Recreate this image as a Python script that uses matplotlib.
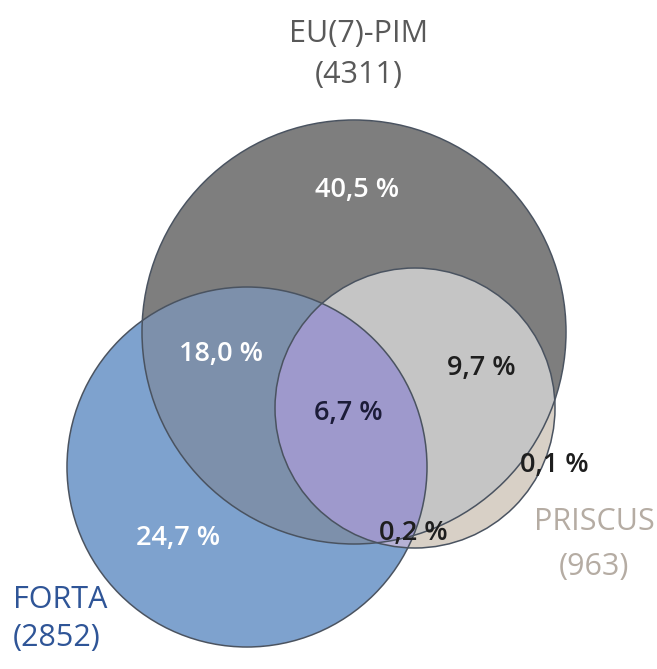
import numpy as np
import matplotlib
matplotlib.use("Agg")
import matplotlib.pyplot as plt
import matplotlib.colors as mcolors
from matplotlib.patches import Circle

plt.rcParams['font.family'] = ['Open Sans', 'DejaVu Sans']

# ---- data ----
set_names = ["EU(7)-PIM", "FORTA", "PRISCUS"]
set_counts = [4311, 2852, 963]
# region membership (EU, FORTA, PRISCUS) and percentage share
region_keys = ["100", "010", "001", "110", "101", "111", "011"]
region_pcts = [40.5, 24.7, 0.1, 18.0, 9.7, 6.7, 0.2]

# ---- layout (pixel coordinates, y downward) ----
W, H = 657, 669
circles = {  # center x, center y, radius
    "EU(7)-PIM": (354, 332, 212),
    "FORTA": (247, 467, 180),
    "PRISCUS": (415, 408, 140),
}
region_colors = {
    "100": "#7f7f7f",
    "010": "#7fa2cf",
    "001": "#d9d0c7",
    "110": "#7d91ab",
    "101": "#c5c5c5",
    "111": "#9e99cc",
    "011": "#b7b2d6",
}
region_text_pos = {
    "100": (357, 190), "010": (178, 538), "001": (554, 465),
    "110": (221, 354), "101": (481, 368), "111": (348, 413),
    "011": (413, 533),
}
region_text_col = {
    "100": "white", "010": "white", "001": "#1e1e1e",
    "110": "white", "101": "#1e1e1e", "111": "#1c1c38",
    "011": "#1e1e1e",
}
label_pos = {
    "EU(7)-PIM": (359, 34, 359, 75, "center"),
    "FORTA": (13, 600, 13, 638, "left"),
    "PRISCUS": (594, 522, 594, 567, "center"),
}
label_col = {"EU(7)-PIM": "#595959", "FORTA": "#2f5597", "PRISCUS": "#b5aca3"}

fig = plt.figure(figsize=(W / 100, H / 100), dpi=100)
ax = fig.add_axes([0, 0, 1, 1])
ax.set_xlim(0, W)
ax.set_ylim(H, 0)
ax.set_aspect('equal')
ax.axis('off')

# region fills on a fine grid
s = 3
xs = (np.arange(W * s) + 0.5) / s
ys = (np.arange(H * s) + 0.5) / s
X, Y = np.meshgrid(xs, ys)
member = []
for name in set_names:
    cx, cy, r = circles[name]
    member.append((X - cx) ** 2 + (Y - cy) ** 2 <= r ** 2)
img = np.ones((H * s, W * s, 4))
img[..., 3] = 0
for key in region_keys:
    m = np.ones_like(X, dtype=bool)
    for i, ch in enumerate(key):
        m &= member[i] if ch == "1" else ~member[i]
    img[m] = mcolors.to_rgba(region_colors[key])
ax.imshow(img, extent=(0, W, H, 0), interpolation='antialiased', zorder=1)

for name in set_names:
    cx, cy, r = circles[name]
    ax.add_patch(Circle((cx, cy), r, fill=False, ec="#4a5360", lw=1.1, zorder=2))

for key, pct in zip(region_keys, region_pcts):
    x, y = region_text_pos[key]
    ax.text(x, y, f"{pct:.1f} %".replace(".", ","), ha="center", va="center",
            fontsize=19.5, fontweight="semibold", color=region_text_col[key], zorder=3)

for name, cnt in zip(set_names, set_counts):
    x1, y1, x2, y2, ha = label_pos[name]
    ax.text(x1, y1, name, ha=ha, va="center", fontsize=22, color=label_col[name])
    ax.text(x2, y2, f"({cnt})", ha=ha, va="center", fontsize=22, color=label_col[name])

fig.savefig("out.png", dpi=100)
